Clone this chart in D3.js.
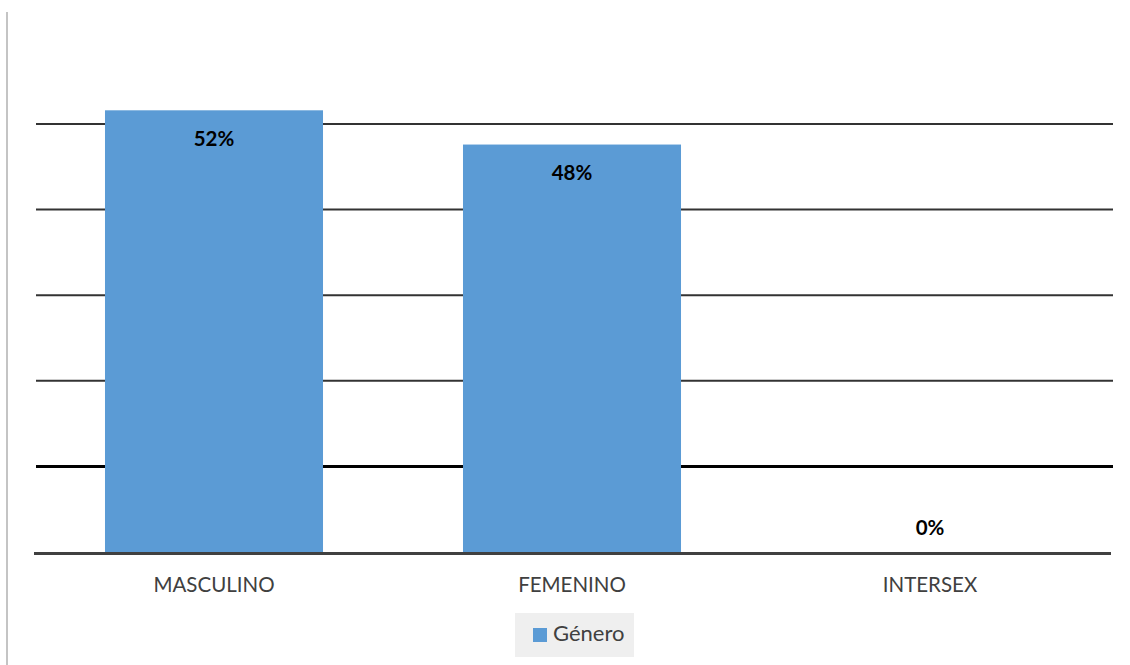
<!DOCTYPE html>
<html><head><meta charset="utf-8">
<script src="https://cdn.jsdelivr.net/npm/d3@7"></script>
<style>body{margin:0;background:#fff}svg{display:block}</style>
</head><body><svg id="c" width="1130" height="665"></svg>
<script>
const categories = ["MASCULINO", "FEMENINO", "INTERSEX"];
const values = [0.516, 0.476, 0.0];
const gridTicks = [0.1, 0.2, 0.3, 0.4, 0.5];
const seriesName = "Género";

const svg = d3.select("#c");
const W = 1130, H = 665;
const font = "Lato, 'Open Sans', sans-serif";

svg.append("line").attr("x1", 7).attr("x2", 7).attr("y1", 12).attr("y2", H)
  .attr("stroke", "#c4c4c4").attr("stroke-width", 2);

const x = d3.scaleBand().domain(categories).range([35, 1109]).paddingInner(0.391).paddingOuter(0.1955);
const y = d3.scaleLinear().domain([0, 0.5]).range([552, 124]);

svg.append("g").selectAll("line").data(gridTicks).join("line")
  .attr("x1", 36).attr("x2", 1113)
  .attr("y1", d => y(d)).attr("y2", d => y(d))
  .attr("stroke", d => d === 0.1 ? "#000" : "#333")
  .attr("stroke-width", d => d === 0.1 ? 3 : 2);

svg.append("g").selectAll("rect").data(values).join("rect")
  .attr("x", (d, i) => x(categories[i]))
  .attr("width", x.bandwidth())
  .attr("y", d => y(d))
  .attr("height", d => y(0) - y(d))
  .attr("fill", "#5b9bd5");

const xAxis = d3.axisBottom(x).tickSize(0).tickPadding(0);
const gx = svg.append("g").attr("transform", `translate(0,${y(0)})`).call(xAxis);
gx.select(".domain").remove();
gx.selectAll("text").attr("font-family", font).attr("font-size", 20.5)
  .attr("fill", "#404040").attr("dy", 0).attr("y", 40);
svg.append("line").attr("x1", 34).attr("x2", 1111)
  .attr("y1", y(0) + 1.5).attr("y2", y(0) + 1.5)
  .attr("stroke", "#404040").attr("stroke-width", 3);

const fmt = d3.format(".0%");
svg.append("g").selectAll("text").data(values).join("text")
  .attr("x", (d, i) => x(categories[i]) + x.bandwidth() / 2)
  .attr("y", d => d > 0 ? y(d) + 35.5 : y(0) - 17)
  .attr("text-anchor", "middle")
  .attr("font-family", font).attr("font-weight", "bold").attr("font-size", 20.5)
  .attr("fill", "#000")
  .text(d => fmt(d));

const lg = svg.append("g");
lg.append("rect").attr("x", 515).attr("y", 613).attr("width", 119).attr("height", 44).attr("fill", "#efefef");
lg.append("rect").attr("x", 533).attr("y", 628).attr("width", 14).attr("height", 14).attr("fill", "#5b9bd5");
lg.append("text").attr("x", 553).attr("y", 641).attr("font-family", font).attr("font-size", 22)
  .attr("fill", "#404040").text(seriesName);
</script></body></html>
